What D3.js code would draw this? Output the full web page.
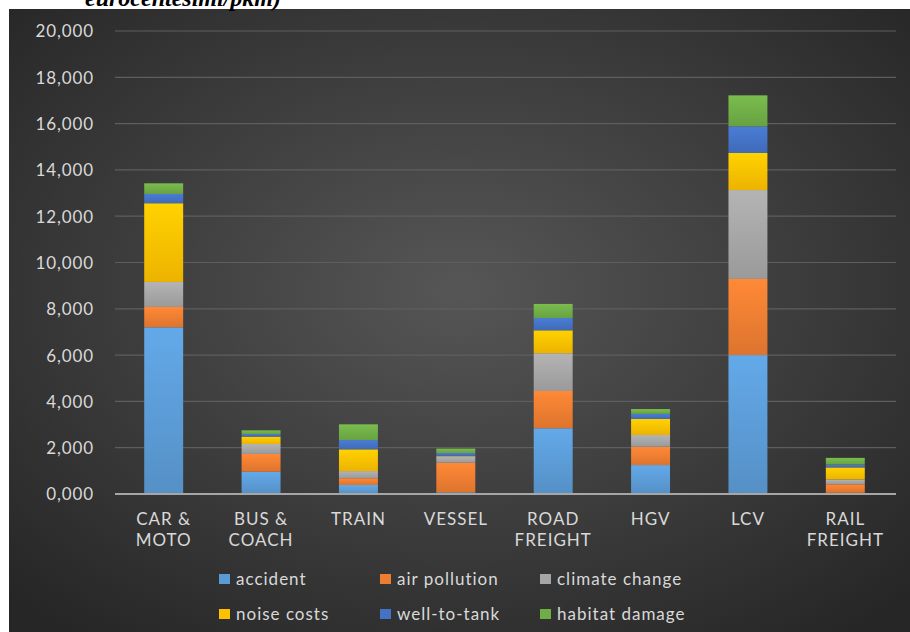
<!DOCTYPE html>
<html>
<head>
<meta charset="utf-8">
<script src="https://cdn.jsdelivr.net/npm/d3@7"></script>
<style>
  html, body { margin: 0; padding: 0; background: #ffffff; }
  svg { display: block; }
</style>
</head>
<body>
<svg id="chart" width="910" height="632"></svg>
<script>
// ---- Data (values in eurocent/pkm, comma is decimal separator in labels) ----
const categories = ["CAR &\nMOTO", "BUS &\nCOACH", "TRAIN", "VESSEL", "ROAD\nFREIGHT", "HGV", "LCV", "RAIL\nFREIGHT"];
const seriesNames = ["accident", "air pollution", "climate change", "noise costs", "well-to-tank", "habitat damage"];
const accident      = [7.20, 0.96, 0.39, 0.07, 2.84, 1.25, 6.00, 0.05];
const airPollution  = [0.88, 0.77, 0.29, 1.28, 1.61, 0.79, 3.29, 0.37];
const climateChange = [1.08, 0.43, 0.31, 0.28, 1.63, 0.51, 3.84, 0.21];
const noiseCosts    = [3.40, 0.32, 0.94, 0.02, 0.99, 0.69, 1.60, 0.52];
const wellToTank    = [0.40, 0.11, 0.40, 0.12, 0.53, 0.22, 1.15, 0.12];
const habitatDamage = [0.46, 0.16, 0.68, 0.19, 0.61, 0.21, 1.34, 0.29];
const yTickValues = [0, 2, 4, 6, 8, 10, 12, 14, 16, 18, 20];
const yTickLabels = ["0,000", "2,000", "4,000", "6,000", "8,000", "10,000", "12,000", "14,000", "16,000", "18,000", "20,000"];
const titleText = "eurocentesimi/pkm)";

const seriesValues = [accident, airPollution, climateChange, noiseCosts, wellToTank, habitatDamage];
const colors = ["#5B9BD5", "#ED7D31", "#A5A5A5", "#FFC000", "#4472C4", "#70AD47"];

const svg = d3.select("#chart");
const defs = svg.append("defs");

// background gradient
const bg = defs.append("radialGradient").attr("id", "bgGrad")
  .attr("cx", "50%").attr("cy", "45%").attr("r", "70%");
bg.append("stop").attr("offset", "0%").attr("stop-color", "#565656");
bg.append("stop").attr("offset", "100%").attr("stop-color", "#262626");

// bar gradients
colors.forEach((c, i) => {
  const g = defs.append("linearGradient").attr("id", "barGrad" + i)
    .attr("x1", 0).attr("y1", 0).attr("x2", 0).attr("y2", 1);
  g.append("stop").attr("offset", "0%").attr("stop-color", d3.color(c).brighter(0.25));
  g.append("stop").attr("offset", "100%").attr("stop-color", d3.color(c).darker(0.2));
});

// panel
svg.append("rect").attr("x", 9).attr("y", 9).attr("width", 901).attr("height", 623)
  .attr("fill", "url(#bgGrad)");

// cut-off title (the reference crops it at the top edge)
svg.append("text").attr("x", 85).attr("y", 6)
  .attr("font-family", "Liberation Serif, serif")
  .attr("font-style", "italic").attr("font-weight", "bold")
  .attr("font-size", 24).attr("fill", "#000")
  .text(titleText);

const left = 115, right = 896;
const x = d3.scaleBand().domain(categories).range([left, 894]).paddingInner(0.6).paddingOuter(0.3);
const y = d3.scaleLinear().domain([0, 20]).range([494, 31]);

const fontFam = "Lato, 'Open Sans', sans-serif";
const textColor = "#d9d9d9";

// gridlines
svg.append("g").selectAll("line").data(yTickValues.filter(v => v > 0)).join("line")
  .attr("x1", left).attr("x2", right)
  .attr("y1", d => y(d)).attr("y2", d => y(d))
  .attr("stroke", "#5e5e5e").attr("stroke-width", 1.2);

// y axis labels
const yAxis = d3.axisLeft(y).tickValues(yTickValues)
  .tickFormat((d, i) => yTickLabels[i]).tickSize(0).tickPadding(0);
const yg = svg.append("g").attr("transform", "translate(94,0)").call(yAxis);
yg.select(".domain").remove();
yg.selectAll("text").attr("font-family", fontFam).attr("font-size", 17)
  .attr("letter-spacing", 0.9).attr("fill", textColor).attr("dy", "0.35em");

// stacked data
const rows = categories.map((c, i) => {
  const r = { cat: c };
  seriesNames.forEach((s, k) => r[s] = seriesValues[k][i]);
  return r;
});
const stack = d3.stack().keys(seriesNames)(rows);

svg.append("g").selectAll("g").data(stack).join("g")
  .attr("fill", (d, i) => "url(#barGrad" + i + ")")
  .selectAll("rect").data(d => d).join("rect")
  .attr("x", d => x(d.data.cat))
  .attr("width", x.bandwidth())
  .attr("y", d => y(d[1]))
  .attr("height", d => Math.max(0, y(d[0]) - y(d[1])));

// baseline
svg.append("line").attr("x1", left).attr("x2", right).attr("y1", y(0)).attr("y2", y(0))
  .attr("stroke", "#a6a6a6").attr("stroke-width", 2);

// category labels
const xAxis = d3.axisBottom(x).tickSize(0).tickFormat("");
const xg = svg.append("g").attr("transform", "translate(0," + y(0) + ")").call(xAxis);
xg.select(".domain").remove();
xg.selectAll(".tick").each(function(d) {
  const lines = d.split("\n");
  const t = d3.select(this).append("text")
    .attr("text-anchor", "middle").attr("font-family", fontFam).attr("font-size", 17)
    .attr("letter-spacing", 1).attr("fill", textColor);
  lines.forEach((ln, j) => {
    t.append("tspan").attr("x", 0).attr("y", 31 + j * 20.5).text(ln);
  });
});

// legend
const legCols = [219, 380, 540];
const legRows = [585, 620];
const leg = svg.append("g").selectAll("g").data(seriesNames).join("g")
  .attr("transform", (d, i) => "translate(" + legCols[i % 3] + "," + legRows[Math.floor(i / 3)] + ")");
leg.append("rect").attr("x", 0).attr("y", -11).attr("width", 11).attr("height", 10)
  .attr("fill", (d, i) => colors[i]);
leg.append("text").attr("x", 17).attr("y", 0)
  .attr("font-family", fontFam).attr("font-size", 17).attr("letter-spacing", 1)
  .attr("fill", textColor).text(d => d);
</script>
</body>
</html>
